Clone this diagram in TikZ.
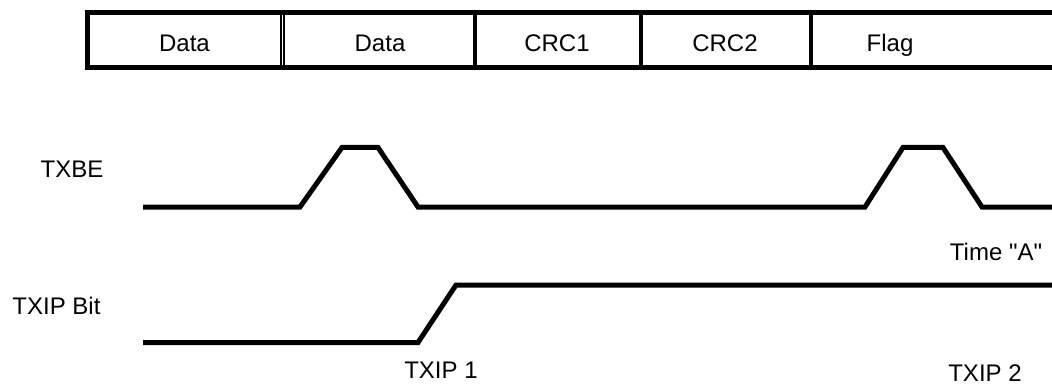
\documentclass[tikz,border=0pt]{standalone}
\usepackage{fontspec}
\setmainfont{Liberation Sans}[Ligatures=TeXOff]
\usepackage{tikz}
\usetikzlibrary{arrows.meta}
\usepackage{xcolor}
\definecolor{ColW}{RGB}{0,0,0}
\tikzstyle{Frame}=[ColW,line width=5pt]
\tikzstyle{Divider}=[ColW,line width=3.5pt]
\tikzstyle{Wave}=[ColW,line width=5pt,line cap=butt,line join=miter]
\tikzstyle{Label}=[anchor=base,inner sep=0pt,font=\fontsize{24}{28}\selectfont]

\begin{document}
\begin{tikzpicture}[x=1pt,y=-1pt]
        \useasboundingbox(0,0)rectangle(1052,385);
        % frame
        \draw[Frame](1052,12.5)--(87.5,12.5)--(87.5,67.5)--(1052,67.5);
        \draw[ColW,line width=2pt](280.5,12.5)--(280.5,67.5);
        \draw[ColW,line width=2.5pt](284,12.5)--(284,67.5);
        \draw[Divider](475,12.5)--(475,67.5);
        \draw[Divider](641,12.5)--(641,67.5);
        \draw[Divider](811,12.5)--(811,67.5);
        \node[Label](d1)at(184.5,52){Data};
        \node[Label](d2)at(380,52){Data};
        \node[Label](c1)at(557,52){CRC1};
        \node[Label](c2)at(725,52){CRC2};
        \node[Label](fl)at(890,52){Flag};
        % signals
        \node[Label](txbe)at(72,177){TXBE};
        \draw[Wave](143,207)--(300,207)--(342,147.5)--(378,147.5)--(418,207)
            --(865,207)--(903,147.5)--(943,147.5)--(982,207)--(1052,207);
        \node[Label](ta)at(996,260){Time "A"};
        \node[Label](txip)at(56.5,314){TXIP Bit};
        \draw[Wave](143,342.5)--(418,342.5)--(456,285)--(1052,285);
        \node[Label](t1)at(441,378){TXIP 1};
        \node[Label](t2)at(985,381){TXIP 2};
    \end{tikzpicture}
\end{document}
